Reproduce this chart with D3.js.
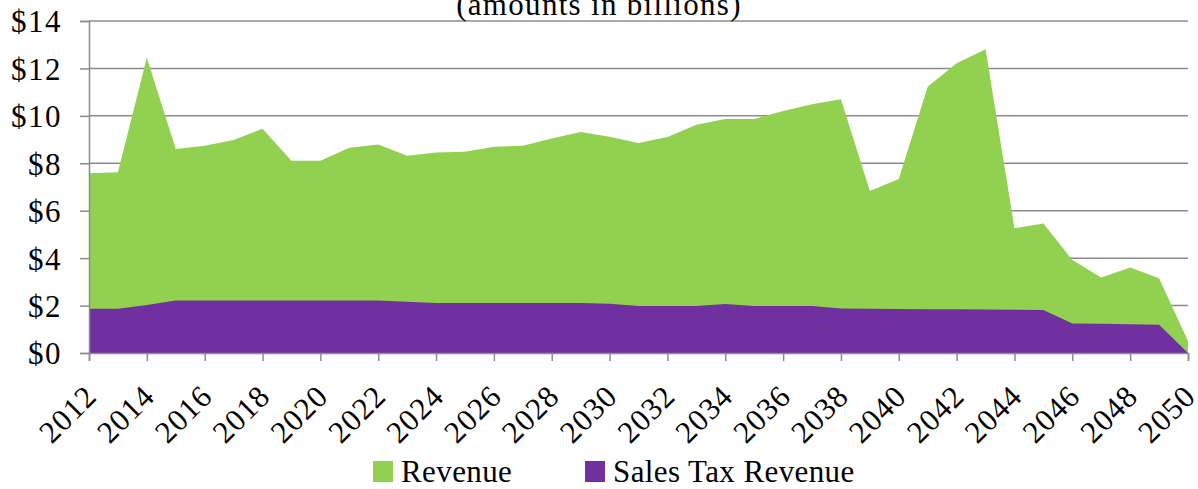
<!DOCTYPE html>
<html>
<head>
<meta charset="utf-8">
<script src="https://cdn.jsdelivr.net/npm/d3@7"></script>
<style>
  body { margin: 0; background: #fff; }
  svg text { font-family: "Liberation Serif", "DejaVu Serif", serif; fill: #000; }
</style>
</head>
<body>
<div id="chart"></div>
<script>
const years = d3.range(2012, 2051);
// total revenue, billions
const revenue = [7.58, 7.62, 12.45, 8.60, 8.74, 8.98, 9.46, 8.11, 8.11, 8.66,
  8.79, 8.32, 8.46, 8.49, 8.70, 8.74, 9.05, 9.32, 9.12, 8.86,
  9.11, 9.62, 9.87, 9.87, 10.21, 10.49, 10.70, 6.83, 7.34, 11.23,
  12.22, 12.81, 5.26, 5.46, 3.92, 3.18, 3.61, 3.15, 0.51];
const salesTax = [1.87, 1.87, 2.02, 2.21, 2.21, 2.21, 2.21, 2.21, 2.21, 2.21,
  2.21, 2.16, 2.11, 2.11, 2.11, 2.11, 2.11, 2.11, 2.08, 1.98,
  1.98, 1.98, 2.07, 1.98, 1.98, 1.98, 1.88, 1.87, 1.86, 1.85,
  1.84, 1.83, 1.82, 1.81, 1.24, 1.23, 1.21, 1.19, 0.0];
const yTicks = [0, 2, 4, 6, 8, 10, 12, 14];
const xTicks = d3.range(2012, 2051, 2);
const seriesNames = ['Revenue', 'Sales Tax Revenue'];
const colors = ['#92D050', '#7030A0'];

const W = 1198, H = 489;
const margin = {t: 21, r: 10, b: 136, l: 89};

const svg = d3.select('#chart').append('svg').attr('width', W).attr('height', H);

const x = d3.scaleLinear().domain([2012, 2050]).range([margin.l, W - margin.r]);
const y = d3.scaleLinear().domain([0, 14]).range([H - margin.b, margin.t]);

// gridlines
svg.append('g').selectAll('line').data(yTicks.filter(d => d > 0)).join('line')
  .attr('x1', x(2012)).attr('x2', x(2050))
  .attr('y1', d => y(d)).attr('y2', d => y(d))
  .attr('stroke', '#8c8c8c').attr('stroke-width', 1.5);

const area = vals => d3.area()
  .x((d, i) => x(years[i]))
  .y0(y(0))
  .y1((d, i) => y(vals[i]))(vals);

svg.append('path').attr('d', area(revenue)).attr('fill', colors[0]);
svg.append('path').attr('d', area(salesTax)).attr('fill', colors[1]);

// y axis
const yAxis = svg.append('g').attr('transform', `translate(${x(2012)},0)`)
  .call(d3.axisLeft(y).tickValues(yTicks).tickSize(9).tickPadding(18).tickFormat(d => '$' + d));
yAxis.select('.domain').attr('stroke', '#8c8c8c').attr('stroke-width', 1.5);
yAxis.selectAll('.tick line').attr('stroke', '#8c8c8c').attr('stroke-width', 1.5);
yAxis.selectAll('.tick text').attr('font-size', 31).attr('dy', '0.35em')
  .attr('letter-spacing', 1.5);

// x axis
const xAxis = svg.append('g').attr('transform', `translate(0,${y(0)})`)
  .call(d3.axisBottom(x).tickValues(xTicks).tickSize(8).tickFormat(d3.format('d')));
xAxis.select('.domain').attr('stroke', '#8c8c8c').attr('stroke-width', 1.5);
xAxis.selectAll('.tick line').attr('stroke', '#8c8c8c').attr('stroke-width', 1.5);
xAxis.selectAll('.tick text')
  .attr('font-size', 31)
  .attr('letter-spacing', 1)
  .attr('text-anchor', 'end')
  .attr('dy', null)
  .attr('y', 0)
  .attr('transform', 'translate(9,45) rotate(-45)');

// title (cut at top)
svg.append('text').attr('x', W / 2).attr('y', 15)
  .attr('text-anchor', 'middle').attr('font-size', 31)
  .attr('letter-spacing', 1.3)
  .text('(amounts in billions)');

// legend
const legX = [373, 585];
const leg = svg.append('g').selectAll('g').data(seriesNames).join('g')
  .attr('transform', (d, i) => `translate(${legX[i]},461)`);
leg.append('rect').attr('width', 20).attr('height', 21).attr('fill', (d, i) => colors[i]);
leg.append('text').attr('x', 28).attr('y', 21).attr('font-size', 31)
  .attr('letter-spacing', 0.4)
  .text(d => d);
</script>
</body>
</html>
